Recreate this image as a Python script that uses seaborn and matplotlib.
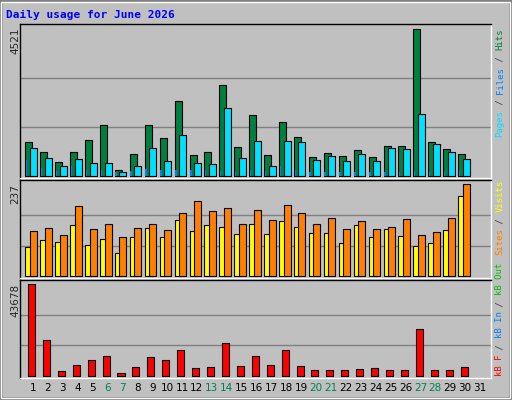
import matplotlib
matplotlib.use("Agg")
import matplotlib.pyplot as plt
import seaborn as sns
import numpy as np
from matplotlib.patches import Rectangle

sns.set_style("white")
plt.rcParams['font.family'] = ['DejaVu Sans']

days = list(range(1, 32))
hits = [1045, 738, 430, 738, 1107, 1568, 185, 676, 1568, 1169, 2306, 646, 738, 2798, 892,
        1876, 646, 1660, 1199, 584, 707, 615, 800, 584, 922, 922, 4521, 1045, 830, 676]
pages = [861, 553, 307, 523, 400, 400, 123, 307, 861, 461, 1261, 400, 369, 2091, 553,
         1076, 307, 1076, 1045, 492, 615, 461, 676, 461, 861, 830, 1906, 984, 738, 523]
files = [492, 246, 154, 307, 185, 185, 123, 154, 215, 185, 185, 185, 185, 154, 123,
         185, 154, 307, 185, 123, 123, 123, 123, 123, 123, 123, 154, 123, 123, 185]
visits = [75, 93, 88, 131, 80, 95, 59, 101, 124, 101, 144, 116, 131, 126, 108,
          134, 108, 142, 126, 111, 111, 85, 131, 101, 121, 103, 77, 85, 119, 206]
sites = [116, 124, 106, 180, 121, 134, 101, 124, 136, 119, 163, 193, 168, 175, 136,
         170, 144, 183, 163, 136, 149, 121, 142, 121, 126, 147, 106, 113, 149, 237]
kbytes = [43678, 16900, 2070, 4940, 7330, 9240, 1120, 3990, 8770, 7330, 12100, 3500, 3990,
          15460, 4460, 9240, 4940, 12100, 4460, 2550, 2550, 2550, 3030, 3500, 2550, 2550,
          22300, 2550, 2550, 3990]
weekend = [6, 7, 13, 14, 20, 21, 27, 28]
title = "Daily usage for June 2026"

W, H = 512, 400
fig = plt.figure(figsize=(W / 100, H / 100), dpi=100)
fig.patch.set_facecolor("#C0C0C0")
fig.patches.append(Rectangle((0, 0), 1, 1, transform=fig.transFigure, fill=False,
                             edgecolor="#808080", lw=4))
fig.patches.append(Rectangle((0.002, 0.004), 0.994, 0.992, transform=fig.transFigure,
                             fill=False, edgecolor="white", lw=1))

L, R = 20, 491
def mkax(top, bot):
    return fig.add_axes([L / W, 1 - bot / H, (R - L) / W, (bot - top) / H])

def setup(ax, vmax, top, bot, base, peak):
    ax.set_facecolor("#C0C0C0")
    ppx = vmax / (base - peak)
    ax.set_ylim(-(bot - base) * ppx, vmax + (peak - top) * ppx)
    ax.set_xlim(0.1, 31.67)
    for v in (vmax / 3, 2 * vmax / 3):
        ax.axhline(v, color="#808080", lw=1, zorder=0)
    ax.set_xticks([]); ax.set_yticks([])
    for s in ax.spines.values():
        s.set_color("black"); s.set_linewidth(1)
    ax.spines['right'].set_color("white"); ax.spines['bottom'].set_color("white")

x = np.array(days[:30], dtype=float)
kw = dict(edgecolor="black", linewidth=0.8)

ax1 = mkax(24, 178)
setup(ax1, 4521, 24, 178, 176, 29)
ax1.bar(x - 0.3, hits, width=0.47, color="#008040", zorder=2, **kw)
ax1.bar(x - 0.0, pages, width=0.47, color="#00E0FF", zorder=3, **kw)
ax1.bar(x - 0.45, files, width=0.1, color="#0080FF", linewidth=0, zorder=4)

ax2 = mkax(180, 278)
setup(ax2, 237, 180, 278, 276.3, 184.3)
ax2.bar(x - 0.3, visits, width=0.47, color="#FFFF00", zorder=2, **kw)
ax2.bar(x - 0.0, sites, width=0.47, color="#FF8000", zorder=3, **kw)

ax3 = mkax(280, 378)
setup(ax3, 43678, 280, 378, 375.7, 284.3)
ax3.bar(x - 0.13, kbytes, width=0.47, color="#FF0000", zorder=2, **kw)

for d in days:
    px = 33 + (d - 1) * 14.9
    fig.text(px / W, 1 - 388 / H, str(d), ha="center", va="center", fontsize=7.5,
             color="#00805A" if d in weekend else "black")

for txt, y in (("4521", 27), ("237", 184), ("43678", 284)):
    fig.text(15 / W, 1 - y / H, txt, rotation=90, ha="center", va="top", fontsize=7.5)

fig.text(6 / W, 1 - 15 / H, title, color="#0000FF", fontsize=8, fontweight="bold",
         family="DejaVu Sans Mono", va="center")

def vlabel(parts, top_px):
    ch = 5.4
    y = top_px
    for t, c in reversed(parts):
        fig.text(500 / W, 1 - y / H, t, rotation=90, ha="center", va="top", color=c,
                 fontsize=6.5, family="DejaVu Sans Mono")
        y += len(t) * ch

vlabel([("Pages", "#00E0FF"), (" / ", "#404040"), ("Files", "#0080FF"),
        (" / ", "#404040"), ("Hits", "#008040")], 29)
vlabel([("Sites", "#FF8000"), (" / ", "#404040"), ("Visits", "#FFFF00")], 180)
vlabel([("kB F", "#FF0000"), (" / ", "#404040"), ("kB In", "#0080FF"),
        (" / ", "#404040"), ("kB Out", "#00C000")], 263)

fig.savefig("out.png", dpi=100, facecolor=fig.get_facecolor())
